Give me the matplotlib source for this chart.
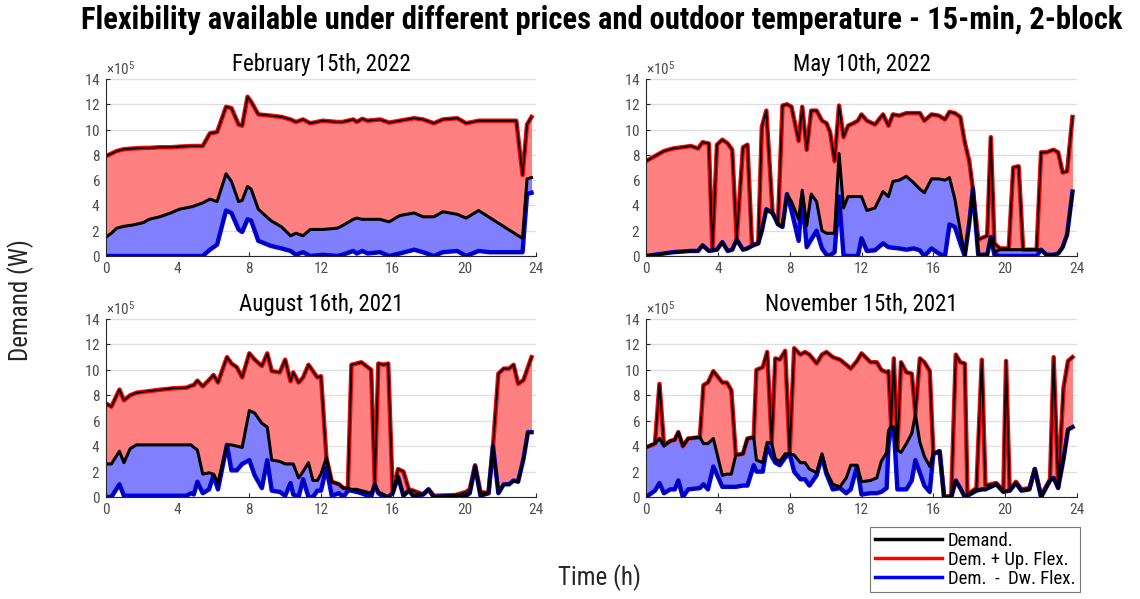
import matplotlib
matplotlib.use("Agg")
import matplotlib.pyplot as plt
from matplotlib import font_manager as fm
from matplotlib.lines import Line2D
from matplotlib.ticker import ScalarFormatter
import numpy as np

# ---------------------------------------------------------------- data
# Demand profiles in units of 1e5 W; time in hours (15-min resolution breakpoints)
SCALE = 1e5

feb_t = [0.0, 0.3, 0.6, 1.0, 1.5, 2.1, 2.4, 3.0, 3.6, 4.1, 4.8, 5.4, 5.8, 6.2, 6.7,
         7.0, 7.4, 7.6, 7.9, 8.1, 8.5, 9.2, 9.8, 10.3, 10.6, 11.0, 11.4, 12.1, 12.9,
         13.2, 13.8, 14.0, 14.3, 14.6, 15.3, 15.8, 16.4, 17.2, 17.7, 18.3, 18.8, 19.6,
         20.1, 20.8, 21.4, 22.9, 23.25, 23.5, 23.75]
feb_dw = [0.0, 0.0, 0.0, 0.0, 0.0, 0.0, 0.0, 0.0, 0.0, 0.0, 0.0, 0.0, 0.5, 0.9, 3.6,
          3.4, 2.1, 1.9, 2.9, 2.8, 1.2, 0.8, 0.6, 0.4, 0.1, 0.3, 0.0, 0.1, 0.0,
          0.1, 0.4, 0.2, 0.4, 0.2, 0.3, 0.0, 0.2, 0.5, 0.3, 0.0, 0.3, 0.4,
          0.0, 0.4, 0.3, 0.3, 0.3, 4.9, 5.0]
feb_dem = [1.5, 1.8, 2.2, 2.35, 2.45, 2.65, 2.9, 3.1, 3.4, 3.7, 3.9, 4.2, 4.5, 4.3, 6.5,
           5.9, 4.3, 4.4, 5.5, 5.3, 3.7, 2.8, 2.3, 1.6, 1.8, 1.6, 2.1, 2.1, 2.2,
           2.4, 2.9, 3.0, 2.9, 2.9, 2.9, 2.7, 3.2, 3.4, 3.1, 3.1, 3.5, 3.3,
           3.0, 3.6, 3.05, 1.7, 1.4, 6.1, 6.2]
feb_up = [7.9, 8.1, 8.3, 8.45, 8.5, 8.55, 8.55, 8.6, 8.6, 8.65, 8.7, 8.7, 9.7, 9.8, 11.8,
          11.7, 10.4, 10.3, 12.6, 12.2, 11.2, 11.1, 11.0, 10.8, 10.6, 10.8, 10.5, 10.7, 10.6,
          10.6, 10.8, 10.6, 10.85, 10.7, 10.8, 10.55, 10.7, 10.9, 10.8, 10.5, 10.8, 10.9,
          10.5, 10.7, 10.7, 10.7, 6.4, 10.4, 11.0]

may_t = [0.0, 0.5, 1.0, 1.5, 2.0, 2.5, 2.9, 3.15, 3.5, 3.7, 3.95, 4.25, 4.55, 4.8, 5.05,
         5.4, 5.65, 5.9, 6.25, 6.45, 6.7, 7.05, 7.35, 7.6, 7.85, 8.1, 8.5, 8.7, 8.95,
         9.2, 9.5, 9.8, 10.05, 10.25, 10.5, 10.75, 11.0, 11.25, 11.55, 11.8, 12.0, 12.3,
         12.75, 13.2, 13.5, 13.75, 14.1, 14.5, 14.9, 15.25, 15.5, 15.9, 16.3, 16.65, 16.9,
         17.2, 17.5, 17.75, 18.0, 18.2, 18.5, 19.0, 19.2, 19.4, 19.7, 20.2, 20.45, 20.75,
         21.0, 21.75, 22.0, 22.3, 22.7, 22.95, 23.2, 23.45, 23.75]
may_dw = [0.0, 0.1, 0.2, 0.3, 0.35, 0.4, 0.4, 0.85, 0.4, 0.45, 0.5, 1.1, 0.4, 0.5, 1.3,
          0.5, 0.6, 0.8, 1.0, 2.0, 3.7, 3.4, 2.5, 2.3, 4.9, 3.6, 1.2, 4.7, 0.7,
          1.3, 2.0, 0.6, 0.1, 0.05, 0.3, 4.7, 0.05, 0.0, 0.0, 0.0, 1.4, 0.4,
          0.45, 1.0, 0.7, 0.65, 0.6, 0.5, 0.6, 0.45, 0.0, 0.6, 0.2, 0.0, 2.5,
          2.3, 1.0, 0.0, 2.6, 5.3, 0.1, 0.1, 1.5, 0.1, 0.0, 0.0, 0.0, 0.0,
          0.0, 0.0, 0.5, 0.1, 0.1, 0.2, 0.7, 1.7, 5.1]
may_dem = [0.0, 0.1, 0.2, 0.3, 0.35, 0.4, 0.4, 0.85, 0.4, 0.45, 0.5, 1.1, 0.4, 0.5, 1.3,
           0.5, 0.6, 0.8, 1.0, 2.0, 3.7, 3.4, 2.5, 2.3, 4.9, 4.3, 2.9, 5.2, 2.4,
           4.9, 4.3, 2.0, 1.8, 1.8, 1.8, 8.1, 3.8, 4.7, 4.7, 4.7, 4.7, 3.6,
           3.8, 5.1, 4.7, 5.9, 6.0, 6.3, 5.8, 5.3, 5.0, 6.1, 6.1, 6.0, 6.2,
           4.5, 2.0, 0.0, 2.6, 5.3, 0.1, 0.1, 1.5, 0.3, 0.5, 0.5, 0.5, 0.5,
           0.5, 0.5, 0.5, 0.1, 0.1, 0.2, 0.7, 1.7, 5.1]
may_up = [7.5, 7.9, 8.3, 8.5, 8.6, 8.7, 8.5, 9.0, 8.9, 0.45, 8.8, 9.2, 8.9, 8.4, 1.3,
          8.6, 8.8, 0.9, 1.0, 10.2, 11.5, 3.4, 2.7, 11.9, 12.0, 11.8, 9.1, 11.8, 8.4,
          11.5, 11.5, 10.7, 10.5, 9.8, 7.5, 11.9, 9.4, 10.3, 10.5, 10.7, 11.2, 10.7,
          10.4, 11.2, 10.3, 11.2, 11.1, 11.3, 11.3, 11.3, 10.7, 11.2, 11.1, 10.8, 11.4,
          11.3, 11.0, 9.0, 7.5, 5.3, 1.3, 1.6, 9.4, 1.0, 0.6, 0.6, 7.0, 7.1,
          0.5, 0.5, 8.2, 8.2, 8.4, 8.2, 6.6, 6.7, 11.0]

aug_t = [0.0, 0.3, 0.75, 1.0, 1.35, 1.7, 2.8, 3.75, 4.5, 4.75, 4.9, 5.1, 5.4, 5.75, 6.0,
         6.25, 6.75, 7.0, 7.3, 7.6, 8.0, 8.3, 8.7, 9.0, 9.25, 9.7, 10.0, 10.3, 10.45,
         10.75, 11.0, 11.3, 11.55, 11.8, 12.0, 12.3, 12.6, 13.0, 13.25, 13.5, 13.7, 14.0,
         14.25, 14.8, 15.0, 15.2, 15.5, 15.75, 16.0, 16.3, 16.6, 16.9, 17.15, 17.7, 18.0,
         18.3, 19.5, 20.1, 20.3, 20.6, 20.9, 21.35, 21.6, 21.9, 22.2, 22.5, 22.75, 23.0,
         23.3, 23.55, 23.75]
aug_dw = [0.0, 0.0, 1.0, 0.1, 0.1, 0.1, 0.1, 0.1, 0.1, 0.3, 0.2, 1.2, 0.3, 0.6, 1.7,
          0.6, 4.1, 2.1, 2.1, 2.6, 2.9, 1.7, 0.7, 2.9, 0.5, 0.4, 0.1, 1.1, 0.2,
          0.0, 1.4, 0.0, 0.0, 0.5, 0.5, 2.3, 0.1, 0.3, 0.0, 0.5, 0.5, 0.4,
          0.3, 0.0, 1.0, 0.3, 0.0, 0.0, 0.3, 1.6, 0.1, 0.5, 0.1, 0.2, 0.6,
          0.0, 0.1, 0.1, 0.3, 2.4, 0.1, 0.3, 4.0, 0.3, 1.0, 1.0, 1.3, 1.2,
          3.0, 5.1, 5.1]
aug_dem = [2.6, 2.6, 3.6, 2.7, 3.8, 4.1, 4.1, 4.1, 4.1, 4.1, 3.9, 3.7, 1.8, 1.9, 1.8,
           1.1, 4.1, 4.1, 4.0, 3.9, 6.8, 6.6, 5.8, 5.5, 2.9, 2.8, 2.6, 2.6, 2.6,
           1.5, 2.0, 2.7, 1.3, 1.3, 1.8, 3.1, 1.2, 1.0, 0.7, 0.7, 0.6, 0.6,
           0.5, 0.3, 1.0, 0.4, 0.2, 0.0, 0.3, 1.6, 0.1, 0.5, 0.1, 0.2, 0.6,
           0.0, 0.1, 0.1, 0.3, 2.4, 0.1, 0.3, 4.0, 0.3, 1.0, 1.0, 1.3, 1.2,
           3.0, 5.1, 5.1]
aug_up = [7.35, 7.1, 8.45, 7.6, 8.0, 8.2, 8.4, 8.55, 8.6, 8.75, 8.8, 9.15, 8.7, 9.2, 9.6,
          9.0, 11.0, 10.5, 10.2, 9.4, 11.3, 10.8, 10.3, 11.3, 9.9, 9.8, 10.8, 9.1, 9.8,
          9.0, 9.4, 10.4, 9.9, 9.4, 9.5, 3.1, 1.2, 1.0, 0.7, 0.7, 10.4, 10.5,
          10.6, 10.0, 1.0, 10.5, 10.4, 10.5, 0.3, 2.2, 2.0, 0.6, 0.5, 0.2, 0.6,
          0.1, 0.15, 0.4, 0.6, 2.5, 0.4, 0.3, 4.0, 9.7, 10.1, 10.1, 10.4, 8.9,
          9.2, 10.2, 11.0]

nov_t = [0.0, 0.5, 0.75, 1.0, 1.35, 1.6, 1.8, 2.05, 2.35, 3.0, 3.2, 3.45, 3.75, 4.25, 4.5,
         4.75, 5.0, 5.4, 5.65, 6.0, 6.15, 6.5, 6.75, 7.0, 7.2, 7.45, 7.75, 8.0, 8.25,
         8.6, 8.85, 9.1, 9.5, 9.8, 10.05, 10.4, 10.8, 11.15, 11.4, 11.75, 12.0, 12.5,
         12.85, 13.1, 13.4, 13.5, 13.65, 13.8, 14.0, 14.2, 14.5, 14.8, 15.0, 15.25, 15.5,
         15.8, 16.0, 16.35, 16.6, 17.0, 17.25, 17.5, 17.75, 17.9, 18.4, 18.7, 18.9, 19.5,
         19.9, 20.05, 20.25, 20.6, 20.9, 21.35, 21.65, 22.0, 22.5, 22.7, 22.95, 23.25,
         23.5, 23.75]
nov_dw = [0.0, 0.5, 1.1, 0.3, 0.6, 0.6, 1.3, 0.0, 0.6, 0.7, 1.0, 0.6, 2.4, 0.8, 0.8,
          0.8, 0.8, 0.9, 0.9, 2.5, 2.0, 2.0, 4.0, 3.2, 2.7, 2.5, 3.1, 3.4, 2.0,
          1.4, 1.4, 0.9, 1.7, 3.2, 1.8, 0.6, 0.7, 0.3, 0.6, 2.4, 0.2, 0.3,
          0.3, 0.4, 0.7, 4.0, 5.5, 5.4, 0.6, 0.6, 0.6, 1.3, 2.9, 1.9, 0.9,
          0.4, 3.4, 3.6, 0.0, 0.0, 1.3, 0.7, 0.0, 0.1, 0.5, 0.6, 0.6, 1.0,
          0.4, 0.45, 0.5, 1.1, 0.5, 0.6, 2.2, 0.0, 1.3, 1.5, 0.7, 3.0,
          5.3, 5.5]
nov_dem = [3.9, 4.2, 4.6, 4.0, 4.4, 4.5, 5.1, 4.0, 4.6, 4.7, 4.2, 4.2, 4.6, 1.7, 1.8,
           1.8, 3.3, 3.4, 4.6, 4.7, 2.9, 2.7, 4.3, 4.2, 3.0, 2.8, 3.4, 3.4, 3.3,
           2.7, 2.7, 2.2, 1.9, 3.4, 2.0, 1.0, 0.8, 1.5, 2.5, 2.5, 1.2, 1.3,
           1.5, 2.8, 3.5, 5.2, 5.6, 5.5, 3.7, 3.5, 4.2, 5.0, 6.5, 4.3, 3.2,
           2.4, 3.4, 3.6, 0.0, 0.0, 1.3, 0.7, 0.0, 0.1, 0.5, 0.6, 0.6, 1.0,
           0.4, 0.45, 0.5, 1.1, 0.5, 0.6, 2.2, 0.0, 1.3, 1.5, 0.7, 3.0,
           5.3, 5.5]
nov_up = [3.9, 4.2, 8.9, 4.1, 4.4, 4.5, 5.1, 4.0, 4.6, 4.7, 8.8, 9.0, 9.9, 9.0, 9.0,
          8.4, 3.3, 3.4, 4.6, 4.7, 10.0, 10.2, 11.4, 4.2, 10.9, 10.8, 11.5, 3.4, 11.7,
          11.2, 11.4, 11.2, 10.5, 11.2, 11.4, 11.0, 10.8, 10.4, 10.1, 10.7, 11.3, 10.6,
          10.6, 10.0, 9.8, 9.9, 5.6, 10.9, 3.7, 10.6, 9.8, 9.7, 6.5, 10.9, 10.6,
          9.9, 3.4, 3.6, 0.0, 0.1, 11.2, 10.6, 10.5, 0.2, 0.7, 10.8, 0.9, 1.1,
          0.5, 10.7, 0.5, 1.2, 0.6, 0.7, 2.2, 0.1, 1.4, 11.0, 0.8, 8.6,
          10.7, 11.0]

panel_titles = ["February 15th, 2022", "May 10th, 2022", "August 16th, 2021", "November 15th, 2021"]
legend_labels = ["Demand.", "Dem. + Up. Flex.", "Dem.  -  Dw. Flex."]
x_ticks = [0, 4, 8, 12, 16, 20, 24]
y_ticks = [0, 2, 4, 6, 8, 10, 12, 14]

# ---------------------------------------------------------------- fonts
avail = {f.name for f in fm.fontManager.ttflist}
FONT = "Roboto Condensed" if "Roboto Condensed" in avail else "DejaVu Sans"
plt.rcParams["font.family"] = [FONT, "DejaVu Sans"]
plt.rcParams["mathtext.fontset"] = "custom"
plt.rcParams["mathtext.rm"] = FONT
plt.rcParams["mathtext.it"] = FONT

# ---------------------------------------------------------------- figure
W, H = 1140, 599
fig = plt.figure(figsize=(W / 100, H / 100), dpi=100)

positions = [
    [106 / W, 1 - 256 / H, 430 / W, 177 / H],
    [646 / W, 1 - 256 / H, 431 / W, 177 / H],
    [106 / W, 1 - 497 / H, 430 / W, 178 / H],
    [646 / W, 1 - 497 / H, 431 / W, 178 / H],
]
series = [
    (feb_t, feb_dw, feb_dem, feb_up),
    (may_t, may_dw, may_dem, may_up),
    (aug_t, aug_dw, aug_dem, aug_up),
    (nov_t, nov_dw, nov_dem, nov_up),
]

RED_FILL = (1.0, 0.5, 0.5)
BLUE_FILL = (0.5, 0.5, 1.0)
TICK_GRAY = "#4d4d4d"

for pos, (t, dw, dem, up), title in zip(positions, series, panel_titles):
    ax = fig.add_axes(pos)
    t = np.asarray(t)
    dw = np.asarray(dw) * SCALE
    dem = np.asarray(dem) * SCALE
    up = np.asarray(up) * SCALE

    ax.fill_between(t, dem, up, color=RED_FILL, lw=0, zorder=2)
    ax.fill_between(t, dw, dem, color=BLUE_FILL, lw=0, zorder=2)
    ax.plot(t, up, color="red", lw=3.2, zorder=3, solid_joinstyle="round")
    ax.plot(t, up, color="black", lw=1.3, zorder=4, solid_joinstyle="round")
    ax.plot(t, dw, color="blue", lw=3.2, zorder=3, solid_joinstyle="round")
    ax.plot(t, dw, color="#00007a", lw=1.0, zorder=4, solid_joinstyle="round")
    ax.plot(t, dem, color="black", lw=2.2, zorder=5, solid_joinstyle="round")

    ax.set_xlim(0, 24)
    ax.set_ylim(0, 14 * SCALE)
    ax.set_xticks(x_ticks)
    ax.set_yticks([v * SCALE for v in y_ticks])
    fmt = ScalarFormatter(useMathText=True)
    fmt.set_powerlimits((5, 5))
    ax.yaxis.set_major_formatter(fmt)
    ax.yaxis.get_offset_text().set_color(TICK_GRAY)
    ax.yaxis.get_offset_text().set_fontsize(11)

    for s in ("top", "right"):
        ax.spines[s].set_visible(False)
    for s in ("left", "bottom"):
        ax.spines[s].set_color("#262626")
        ax.spines[s].set_linewidth(0.8)
        ax.spines[s].set_zorder(6)
    ax.tick_params(direction="in", length=3, width=0.8, colors="#262626",
                   labelcolor=TICK_GRAY, labelsize=11, pad=4)
    ax.grid(axis="y", color="#dedede", lw=0.9, zorder=1)
    ax.set_axisbelow(True)
    ax.set_title(title, fontsize=16.5, fontweight="normal", color="black", pad=6)

fig.text(602 / W, 1 - 20 / H,
         "Flexibility available under different prices and outdoor temperature - 15-min, 2-block",
         ha="center", va="center", fontsize=22, fontweight="bold", color="black")
fig.text(21 / W, 1 - 300 / H, "Demand (W)", rotation=90, ha="center", va="center",
         fontsize=18, color="#262626")
fig.text(599 / W, 1 - 578 / H, "Time (h)", ha="center", va="center",
         fontsize=18, color="#262626")

handles = [Line2D([], [], color="black", lw=2.5),
           Line2D([], [], color="red", lw=2.5),
           Line2D([], [], color="blue", lw=2.5)]
leg = fig.legend(handles, legend_labels, loc="upper left",
                 bbox_to_anchor=(870 / W, 1 - 527 / H), fontsize=13.5,
                 frameon=True, fancybox=False, edgecolor="#555555",
                 handlelength=3.6, handletextpad=0.3, borderpad=0.25,
                 labelspacing=0.05, borderaxespad=0)
leg.get_frame().set_linewidth(0.8)

fig.savefig("out.png", dpi=100)
